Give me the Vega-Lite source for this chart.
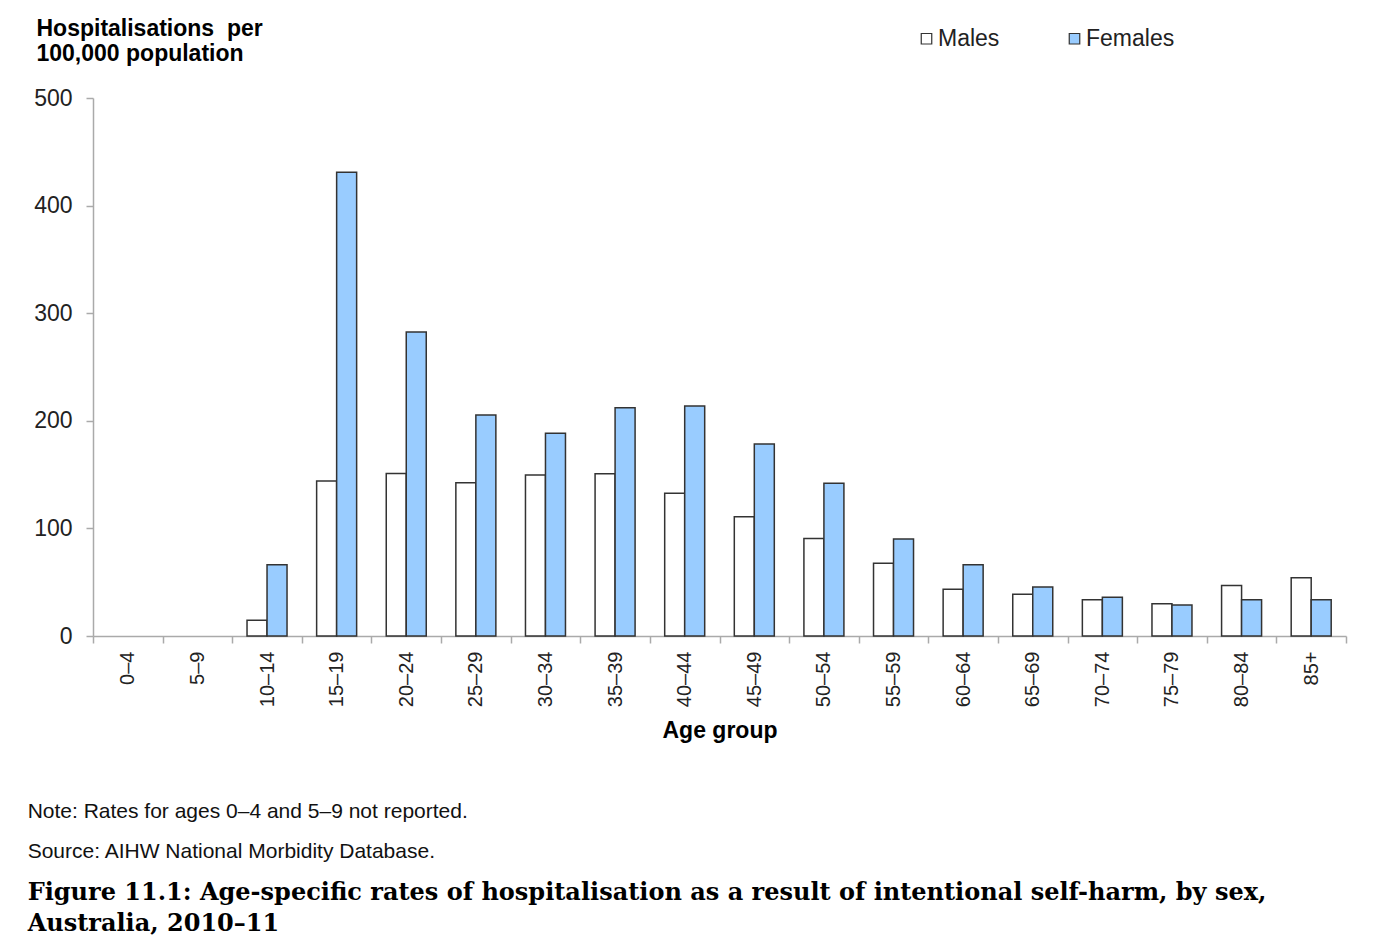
{
  "$schema": "https://vega.github.io/schema/vega-lite/v6.json",
  "width": 1253,
  "height": 538,
  "autosize": {"type": "none"},
  "padding": {"left": 93, "top": 98, "right": 32, "bottom": 301},
  "background": "white",
  "config": {"view": {"stroke": null}, "font": "Liberation Sans"},
  "title": {
    "text": ["Note: Rates for ages 0–4 and 5–9 not reported.", "Source: AIHW National Morbidity Database."],
    "orient": "bottom",
    "anchor": "start",
    "frame": "bounds",
    "dx": -6,
    "offset": 58,
    "font": "Liberation Sans",
    "fontSize": 21,
    "fontWeight": "normal",
    "color": "#111111",
    "lineHeight": 40,
    "subtitle": ["Figure 11.1: Age-specific rates of hospitalisation as a result of intentional self-harm, by sex,", "Australia, 2010–11"],
    "subtitleFont": "DejaVu Serif",
    "subtitleFontSize": 24,
    "subtitleFontWeight": "bold",
    "subtitleColor": "#000000",
    "subtitleLineHeight": 31,
    "subtitlePadding": 19
  },
  "data": {
    "values": [
      {"age": "10–14", "sex": "Males", "rate": 14.6},
      {"age": "10–14", "sex": "Females", "rate": 66.3},
      {"age": "15–19", "sex": "Males", "rate": 144},
      {"age": "15–19", "sex": "Females", "rate": 431},
      {"age": "20–24", "sex": "Males", "rate": 151},
      {"age": "20–24", "sex": "Females", "rate": 282.5},
      {"age": "25–29", "sex": "Males", "rate": 142.5},
      {"age": "25–29", "sex": "Females", "rate": 205.4},
      {"age": "30–34", "sex": "Males", "rate": 149.6},
      {"age": "30–34", "sex": "Females", "rate": 188.4},
      {"age": "35–39", "sex": "Males", "rate": 150.8},
      {"age": "35–39", "sex": "Females", "rate": 212.2},
      {"age": "40–44", "sex": "Males", "rate": 132.6},
      {"age": "40–44", "sex": "Females", "rate": 213.8},
      {"age": "45–49", "sex": "Males", "rate": 110.9},
      {"age": "45–49", "sex": "Females", "rate": 178.4},
      {"age": "50–54", "sex": "Males", "rate": 90.5},
      {"age": "50–54", "sex": "Females", "rate": 141.9},
      {"age": "55–59", "sex": "Males", "rate": 67.5},
      {"age": "55–59", "sex": "Females", "rate": 90.1},
      {"age": "60–64", "sex": "Males", "rate": 43.4},
      {"age": "60–64", "sex": "Females", "rate": 66.3},
      {"age": "65–69", "sex": "Males", "rate": 38.7},
      {"age": "65–69", "sex": "Females", "rate": 45.5},
      {"age": "70–74", "sex": "Males", "rate": 33.8},
      {"age": "70–74", "sex": "Females", "rate": 36},
      {"age": "75–79", "sex": "Males", "rate": 30},
      {"age": "75–79", "sex": "Females", "rate": 28.8},
      {"age": "80–84", "sex": "Males", "rate": 47},
      {"age": "80–84", "sex": "Females", "rate": 33.8},
      {"age": "85+", "sex": "Males", "rate": 54.2},
      {"age": "85+", "sex": "Females", "rate": 33.8}
    ]
  },
  "mark": {"type": "bar", "stroke": "#333333", "strokeWidth": 1.5},
  "encoding": {
    "x": {
      "field": "age",
      "type": "nominal",
      "scale": {
        "domain": ["0–4", "5–9", "10–14", "15–19", "20–24", "25–29", "30–34", "35–39", "40–44", "45–49", "50–54", "55–59", "60–64", "65–69", "70–74", "75–79", "80–84", "85+"],
        "paddingInner": 0,
        "paddingOuter": 0
      },
      "axis": {
        "title": "Age group",
        "titleFont": "Liberation Sans",
        "titleFontSize": 23,
        "titleFontWeight": "bold",
        "titleColor": "#000000",
        "titlePadding": 13,
        "labelAngle": -90,
        "labelFontSize": 20,
        "labelColor": "#222222",
        "labelPadding": 8,
        "tickBand": "extent",
        "tickSize": 7,
        "tickColor": "#aaaaaa",
        "tickWidth": 1.5,
        "domainColor": "#aaaaaa",
        "domainWidth": 1.5
      }
    },
    "xOffset": {
      "field": "sex",
      "type": "nominal",
      "sort": ["Males", "Females"],
      "scale": {"paddingOuter": 0.74, "paddingInner": 0}
    },
    "y": {
      "field": "rate",
      "type": "quantitative",
      "scale": {"domain": [0, 500], "nice": false},
      "axis": {
        "title": ["Hospitalisations\u00a0 per", "100,000 population"],
        "titleAngle": 0,
        "titleAlign": "left",
        "titleBaseline": "top",
        "titleX": -57,
        "titleY": -81,
        "titleFont": "Liberation Sans",
        "titleFontSize": 23,
        "titleFontWeight": "bold",
        "titleLineHeight": 25,
        "titleColor": "#000000",
        "values": [0, 100, 200, 300, 400, 500],
        "grid": false,
        "labelFontSize": 23,
        "labelColor": "#222222",
        "labelPadding": 14,
        "tickSize": 7,
        "tickColor": "#aaaaaa",
        "tickWidth": 1.5,
        "domainColor": "#aaaaaa",
        "domainWidth": 1.5
      }
    },
    "fill": {
      "field": "sex",
      "type": "nominal",
      "sort": ["Males", "Females"],
      "scale": {"domain": ["Males", "Females"], "range": ["#ffffff", "#99ccff"]},
      "legend": {
        "title": null,
        "orient": "none",
        "legendX": 822,
        "legendY": -71,
        "direction": "horizontal",
        "symbolType": "square",
        "symbolSize": 110,
        "symbolStrokeColor": "#333333",
        "symbolStrokeWidth": 1.2,
        "labelFontSize": 23,
        "labelColor": "#222222",
        "labelOffset": 0,
        "columnPadding": 63
      }
    }
  }
}
